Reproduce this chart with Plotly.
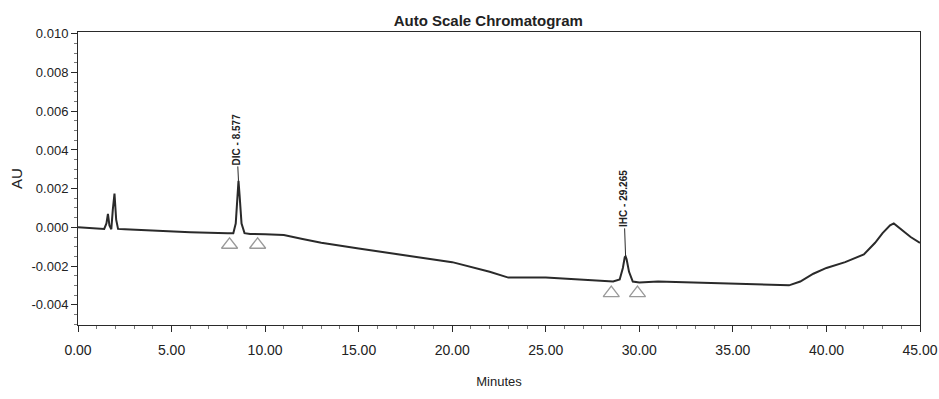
import plotly.graph_objects as go

# Chromatogram trace (minutes, AU)
time_min = [0.0, 1.0, 1.4, 1.52, 1.6, 1.68, 1.78, 1.86, 1.95, 2.04, 2.14, 2.5, 4.0, 6.0,
            8.0, 8.3, 8.43, 8.52, 8.577, 8.64, 8.74, 8.9, 9.2, 10.0, 11.0, 12.0, 13.0,
            15.0, 18.0, 20.0, 22.0, 23.0, 25.0, 27.0, 28.6, 28.95, 29.12, 29.22, 29.265,
            29.32, 29.45, 29.65, 30.0, 31.0, 33.0, 35.0, 37.0, 38.0, 38.6, 39.3, 40.0,
            41.0, 42.0, 42.6, 43.0, 43.4, 43.6, 44.0, 44.5, 45.0]
au = [0.0, -0.00005, -0.00008, 0.0002, 0.0007, 0.0001, -0.0001, 0.0009, 0.00175, 0.0004,
      -0.00008, -0.0001, -0.00017, -0.00025, -0.0003, -0.0003, 0.0002, 0.0016, 0.0024,
      0.0016, 0.0002, -0.0003, -0.00034, -0.00036, -0.0004, -0.0006, -0.0008, -0.0011,
      -0.0015, -0.0018, -0.0023, -0.0026, -0.0026, -0.0027, -0.0028, -0.0027, -0.0021,
      -0.00155, -0.0015, -0.00165, -0.0023, -0.0028, -0.00285, -0.0028, -0.00285, -0.0029,
      -0.00295, -0.003, -0.0028, -0.0024, -0.0021, -0.0018, -0.0014, -0.0008, -0.0003,
      0.0001, 0.0002, -0.0001, -0.0005, -0.0008]

# Peak labels
peak_names = ["DIC - 8.577", "IHC - 29.265"]
peak_times = [8.577, 29.265]
peak_tops = [0.0024, -0.0015]
leader_px = [42, 58]

# Integration start/end markers
marker_times = [8.1, 9.6, 28.5, 29.9]
marker_au = [-0.0009, -0.0009, -0.0034, -0.0034]

x_ticks = [0, 5, 10, 15, 20, 25, 30, 35, 40, 45]
y_ticks = [-0.004, -0.002, 0.0, 0.002, 0.004, 0.006, 0.008, 0.010]

FONT = "Liberation Sans, Arial, sans-serif"
INK = "#2a2a2a"

fig = go.Figure()
fig.add_trace(go.Scatter(x=time_min, y=au, mode="lines",
                         line=dict(color=INK, width=2), hoverinfo="skip",
                         showlegend=False))
fig.add_trace(go.Scatter(x=marker_times, y=marker_au, mode="markers",
                         marker=dict(symbol="triangle-up-open", size=14,
                                     color="#9a9a9a", line=dict(width=1.3)),
                         showlegend=False, hoverinfo="skip"))

for name, t, top, lp in zip(peak_names, peak_times, peak_tops, leader_px):
    fig.add_annotation(x=t, y=top, text="<b>" + name + "</b>", textangle=-90,
                       showarrow=True, arrowhead=0, arrowwidth=1, arrowcolor=INK,
                       ax=-2, ay=-lp, standoff=0,
                       font=dict(family=FONT, size=10, color="#222222"))

fig.update_layout(
    width=939, height=399,
    margin=dict(l=78, r=19, t=32, b=74),
    paper_bgcolor="white", plot_bgcolor="white",
    title=dict(text="<b>Auto Scale Chromatogram</b>", x=0.52, xanchor="center",
               y=0.948, yanchor="middle",
               font=dict(family=FONT, size=15, color="#222222")),
    font=dict(family=FONT, size=13, color="#222222"),
    xaxis=dict(range=[0, 45], tickvals=x_ticks,
               ticktext=[f"{v:.2f}" for v in x_ticks], automargin=False,
               showgrid=False, zeroline=False, showline=True, linecolor=INK,
               linewidth=1, mirror=True, ticks="outside", ticklen=6,
               tickcolor=INK, tickfont=dict(size=14), ticklabelstandoff=6,
               minor=dict(dtick=1, ticks="outside", ticklen=3, tickcolor="#777777"),
               title=dict(text="Minutes", standoff=20,
                          font=dict(family=FONT, size=13))),
    yaxis=dict(range=[-0.00505, 0.0101], tickvals=y_ticks,
               ticktext=[f"{v:.3f}" for v in y_ticks], automargin=False,
               showgrid=False, zeroline=False, showline=True, linecolor=INK,
               linewidth=1, mirror=True, ticks="outside", ticklen=6,
               tickcolor=INK, tickfont=dict(size=13),
               minor=dict(dtick=0.0005, ticks="outside", ticklen=3,
                          tickcolor="#777777"),
               title=dict(text="AU", standoff=5,
                          font=dict(family=FONT, size=15))),
)

fig.write_html("out.html")
